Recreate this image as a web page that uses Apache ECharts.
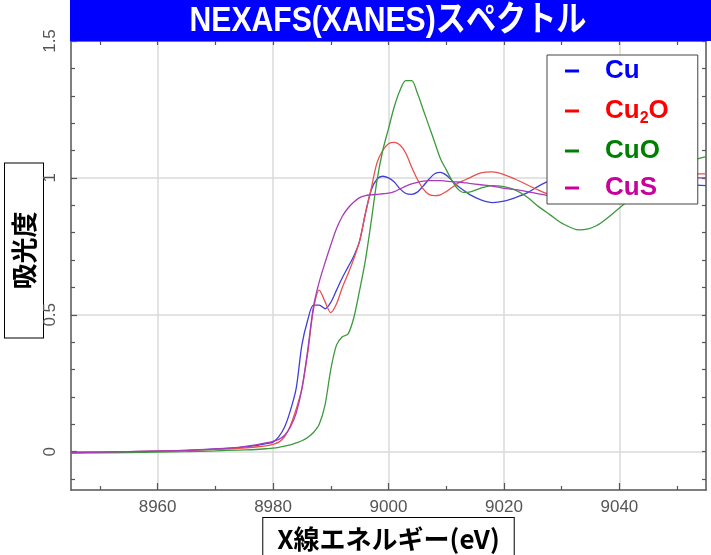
<!DOCTYPE html>
<html><head><meta charset="utf-8">
<script src="https://cdn.jsdelivr.net/npm/echarts@6/dist/echarts.min.js"></script>
<style>html,body{margin:0;padding:0;background:#fff}#c{width:711px;height:555px}</style>
</head><body><div id="c"></div>
<script>
const titleText = 'NEXAFS(XANES)スペクトル';
const xName = 'X線エネルギー(eV)';
const yName = '吸光度';
const seriesNames = ['Cu', 'Cu2O', 'CuO', 'CuS'];

const energy = [8945, 8955, 8965, 8970, 8974, 8977, 8979, 8980, 8981, 8982,
  8983, 8984, 8985, 8986, 8987, 8988, 8989, 8990, 8991, 8992,
  8993, 8994, 8995, 8996, 8997, 8998, 8999, 9000, 9001, 9002,
  9003, 9004, 9005, 9006, 9007, 9008, 9009, 9010, 9011, 9012,
  9013, 9014, 9016, 9018, 9020, 9022, 9024, 9026, 9028, 9030,
  9033, 9036, 9040, 9044, 9048, 9052, 9055];

const cu = [-0.003, 0, 0.005, 0.01, 0.015, 0.022, 0.03, 0.035, 0.055, 0.09,
  0.15, 0.23, 0.39, 0.48, 0.535, 0.535, 0.522, 0.545, 0.59, 0.635,
  0.675, 0.715, 0.77, 0.87, 0.955, 0.995, 1.006, 1.0, 0.985, 0.96,
  0.943, 0.94, 0.948, 0.97, 0.995, 1.015, 1.02, 1.01, 0.99, 0.97,
  0.955, 0.94, 0.92, 0.91, 0.915, 0.928, 0.945, 0.97, 0.99, 1.0,
  1.01, 1.01, 1.0, 0.99, 0.98, 0.975, 0.972];

const cu2o = [-0.003, 0, 0.004, 0.008, 0.012, 0.017, 0.022, 0.027, 0.035, 0.055,
  0.095, 0.155, 0.23, 0.36, 0.52, 0.59, 0.548, 0.508, 0.54, 0.6,
  0.65, 0.705, 0.77, 0.87, 0.96, 1.055, 1.1, 1.125, 1.13, 1.12,
  1.09, 1.04, 0.995, 0.96, 0.94, 0.935, 0.938, 0.95, 0.965, 0.98,
  0.99, 1.0, 1.018, 1.022, 1.012, 0.995, 0.975, 0.955, 0.94, 0.94,
  0.95, 0.97, 0.99, 1.0, 1.01, 1.015, 1.015];

const cuo = [-0.005, -0.003, 0, 0.003, 0.006, 0.008, 0.011, 0.013, 0.016, 0.02,
  0.025, 0.032, 0.04, 0.052, 0.07, 0.1, 0.17, 0.3, 0.39, 0.42,
  0.43, 0.49, 0.59, 0.7, 0.84, 0.99, 1.1, 1.18, 1.26, 1.32,
  1.355, 1.355, 1.31, 1.25, 1.19, 1.13, 1.07, 1.03, 0.99, 0.96,
  0.947, 0.948, 0.963, 0.972, 0.968, 0.955, 0.93, 0.895, 0.865, 0.835,
  0.81, 0.825, 0.89, 0.96, 1.02, 1.06, 1.078];

const cus = [-0.003, 0, 0.005, 0.01, 0.016, 0.025, 0.033, 0.038, 0.045, 0.06,
  0.09, 0.14, 0.23, 0.37, 0.53, 0.62, 0.69, 0.755, 0.815, 0.86,
  0.89, 0.912, 0.928, 0.935, 0.938, 0.94, 0.942, 0.944, 0.95, 0.96,
  0.97, 0.978, 0.984, 0.988, 0.99, 0.99, 0.99, 0.988, 0.986, 0.985,
  0.983, 0.98, 0.975, 0.97, 0.962, 0.957, 0.95, 0.942, 0.935, 0.94,
  0.955, 0.97, 0.985, 0.995, 1.0, 1.0, 1.0];

const xMajorTicks = [8960, 8980, 9000, 9020, 9040];
const xMinorTicks = [8950, 8970, 8990, 9010, 9030, 9050];
const yMajorTicks = [0, 0.5, 1, 1.5];
const yMinorTicks = [-0.1, 0.1, 0.2, 0.3, 0.4, 0.6, 0.7, 0.8, 0.9, 1.1, 1.2, 1.3, 1.4];

const lineColors = ['#4040d8', '#e85050', '#3c9a3c', '#a83cb8'];
const legendColors = ['#0000ff', '#ff0000', '#008000', '#c8009c'];

const X_MIN = 8945, X_MAX = 9055, Y_MIN = -0.14, Y_MAX = 1.5;
const AXIS_COLOR = '#555';

const ctx = document.createElement('canvas').getContext('2d');
const titleFont = 'bold 35px "Liberation Sans", "Noto Sans CJK JP"';
ctx.font = titleFont;
const titleScale = 397 / ctx.measureText(titleText).width;

const chart = echarts.init(document.getElementById('c'), null, {renderer: 'canvas'});

const seriesData = [cu, cu2o, cuo, cus];
const labelFont = {fontSize: 17, color: '#555', fontFamily: 'Liberation Sans'};
const legendTok = {fontSize: 26, fontWeight: 'bold', fontFamily: 'Liberation Sans', lineHeight: 28};

const baseX = {type: 'value', min: X_MIN, max: X_MAX, gridIndex: 0};
const baseY = {type: 'value', min: Y_MIN, max: Y_MAX, gridIndex: 0};

chart.setOption({
  animation: false,
  backgroundColor: '#fff',
  grid: {left: 71, right: 5, top: 41, bottom: 65, containLabel: false, outerBoundsMode: 'none'},
  graphic: [
    {type: 'rect', shape: {x: 70, y: 0, width: 641, height: 41}, style: {fill: '#0000ff'}, z: 100, silent: true},
    {type: 'text', x: 388, y: 21, scaleX: titleScale, z: 101, silent: true,
      style: {text: titleText, fill: '#fff', font: titleFont, align: 'center', verticalAlign: 'middle'}}
  ],
  legend: {
    orient: 'vertical', left: 547, top: 55, padding: [3, 29, 3, 18], itemGap: 11,
    itemWidth: 14, itemHeight: 3, icon: 'rect',
    backgroundColor: '#fff', borderColor: '#444', borderWidth: 1,
    data: seriesNames.map((n, i) => ({name: n, itemStyle: {color: legendColors[i]}})),
    formatter: function (name) {
      if (name === 'Cu2O') return '{r1|Cu}{rs|2}{r2|O}';
      if (name === 'Cu') return '{b|Cu}';
      if (name === 'CuO') return '{g|CuO}';
      return '{m|CuS}';
    },
    textStyle: {
      rich: {
        b: Object.assign({}, legendTok, {color: legendColors[0], padding: [0, 0, 0, 21]}),
        r1: Object.assign({}, legendTok, {color: legendColors[1], padding: [0, 0, 0, 21]}),
        rs: {fontSize: 16, fontWeight: 'bold', fontFamily: 'Liberation Sans', color: legendColors[1], lineHeight: 12, padding: [16, 0, 0, 0]},
        r2: Object.assign({}, legendTok, {color: legendColors[1]}),
        g: Object.assign({}, legendTok, {color: legendColors[2], padding: [0, 0, 0, 21]}),
        m: Object.assign({}, legendTok, {color: legendColors[3], padding: [0, 0, 0, 21]})
      }
    }
  },
  xAxis: [
    Object.assign({}, baseX, {
      position: 'bottom',
      axisLine: {show: true, onZero: false, lineStyle: {color: AXIS_COLOR, width: 1.5}},
      axisTick: {show: true, inside: true, length: 7, customValues: xMajorTicks, lineStyle: {color: AXIS_COLOR, width: 1.2}},
      axisLabel: Object.assign({customValues: xMajorTicks, margin: 9, formatter: v => String(v)}, labelFont),
      splitLine: {show: true, lineStyle: {color: '#dadada', width: 1.5}},
      name: xName, nameLocation: 'middle', nameGap: 28, nameMoveOverlap: false,
      nameTextStyle: {fontSize: 26, fontWeight: 'bold', color: '#000', fontFamily: 'Noto Sans CJK JP',
        borderColor: '#000', borderWidth: 1, padding: [7, 14, 7, 14], backgroundColor: '#fff', lineHeight: 28}
    }),
    Object.assign({}, baseX, {
      position: 'bottom',
      axisLine: {show: false, onZero: false},
      axisTick: {show: true, inside: true, length: 4, customValues: xMinorTicks, lineStyle: {color: AXIS_COLOR, width: 1.2}},
      axisLabel: {show: false}, splitLine: {show: false}
    }),
    Object.assign({}, baseX, {
      position: 'top',
      axisLine: {show: true, onZero: false, lineStyle: {color: AXIS_COLOR, width: 1.5}},
      axisTick: {show: true, inside: true, length: 4, customValues: xMinorTicks.concat(xMajorTicks), lineStyle: {color: AXIS_COLOR, width: 1.2}},
      axisLabel: {show: false}, splitLine: {show: false}
    })
  ],
  yAxis: [
    Object.assign({}, baseY, {
      position: 'left',
      axisLine: {show: true, onZero: false, lineStyle: {color: AXIS_COLOR, width: 1.5}},
      axisTick: {show: true, inside: true, length: 6, customValues: yMajorTicks, lineStyle: {color: AXIS_COLOR, width: 1.2}},
      axisLabel: Object.assign({customValues: yMajorTicks, rotate: 90, margin: 12, formatter: v => String(v)}, labelFont),
      splitLine: {show: true, lineStyle: {color: '#dadada', width: 1.5}},
      name: '{sp| }{t|' + yName + '}', nameLocation: 'middle', nameGap: 34, nameRotate: 90, nameMoveOverlap: false,
      nameTextStyle: {
        rich: {
          sp: {width: 30, fontSize: 10},
          t: {fontSize: 26, fontWeight: 'bold', color: '#000', fontFamily: 'Noto Sans CJK JP', lineHeight: 26,
            borderColor: '#000', borderWidth: 1, padding: [6, 48, 6, 48], backgroundColor: '#fff'}
        }
      }
    }),
    Object.assign({}, baseY, {
      position: 'left',
      axisLine: {show: false, onZero: false},
      axisTick: {show: true, inside: true, length: 4, customValues: yMinorTicks, lineStyle: {color: AXIS_COLOR, width: 1.2}},
      axisLabel: {show: false}, splitLine: {show: false}
    }),
    Object.assign({}, baseY, {
      position: 'right',
      axisLine: {show: true, onZero: false, lineStyle: {color: AXIS_COLOR, width: 1.5}},
      axisTick: {show: true, inside: true, length: 4, customValues: yMinorTicks.concat(yMajorTicks), lineStyle: {color: AXIS_COLOR, width: 1.2}},
      axisLabel: {show: false}, splitLine: {show: false}
    })
  ],
  series: seriesNames.map((n, i) => ({
    name: n, type: 'line', xAxisIndex: 0, yAxisIndex: 0,
    data: energy.map((e, j) => [e, seriesData[i][j]]),
    showSymbol: false, symbol: 'none', smooth: 0.3,
    lineStyle: {color: lineColors[i], width: 1.3},
    itemStyle: {color: lineColors[i]}
  }))
});
</script></body></html>
